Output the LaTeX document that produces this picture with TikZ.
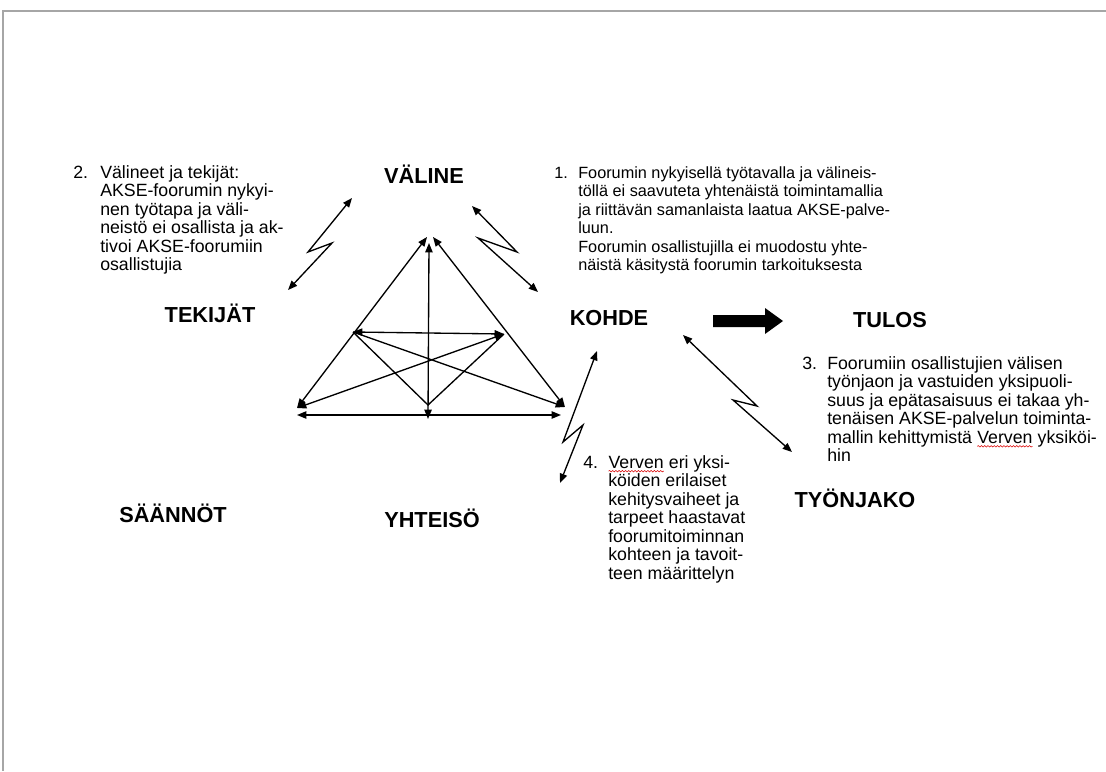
\documentclass[tikz,border=0pt]{standalone}
\usepackage{fontspec}
\setmainfont{Liberation Sans}
\usetikzlibrary{arrows.meta}
\usetikzlibrary{decorations.pathmorphing}

\tikzset{
  lbl/.style={font=\bfseries\fontsize{16.3}{19}\selectfont, inner sep=0pt, anchor=base},
  txt/.style={font=\fontsize{13.3}{13.9}\selectfont, align=left, anchor=north west, inner sep=0pt},
  txtsmall/.style={txt, font=\fontsize{12.2}{13.9}\selectfont},
  tip/.tip={Triangle[length=7pt,width=5.5pt]},
  both/.style={line width=1pt, tip-tip},
  one/.style={line width=1pt, -tip},
  bolt/.style={line width=1pt, tip-tip, line join=miter}
}
% red spell-check squiggle under a word
\newcommand\spellerr[1]{\tikz[baseline=(sw.base)]{\node[inner sep=0pt,outer sep=0pt](sw){#1};
  \draw[red!85!black,line width=0.4pt,decorate,decoration={snake,amplitude=0.55pt,segment length=2.4pt}]
  ([yshift=-2.2pt]sw.base west) -- ([yshift=-2.2pt]sw.base east);}}

\begin{document}
\begin{tikzpicture}[x=0.75pt,y=-0.75pt]
\useasboundingbox (0,0) rectangle (1106,771);
\draw[gray!70,line width=0.8pt] (1106,11) -- (3,11) -- (3,771);

% labels
\node[lbl] (valine) at (424,183) {VÄLINE};
\node[lbl] (tekijat) at (210,322) {TEKIJÄT};
\node[lbl] (kohde) at (609,325) {KOHDE};
\node[lbl] (tulos) at (890,327) {TULOS};
\node[lbl] (tyonjako) at (855,507) {TYÖNJAKO};
\node[lbl] (saannot) at (173,522) {SÄÄNNÖT};
\node[lbl] (yhteiso) at (432,527) {YHTEISÖ};

% numbered notes
\node[txtsmall] (n1) at (554,165) {\strut 1.};
\node[txtsmall] (t1) at (578,165) {\strut Foorumin nykyisellä työtavalla ja välineis-\\
töllä ei saavuteta yhtenäistä toimintamallia\\
ja riittävän samanlaista laatua AKSE-palve-\\
luun.\\
Foorumin osallistujilla ei muodostu yhte-\\
näistä käsitystä foorumin tarkoituksesta};

\node[txt] (n2) at (73,165) {\strut 2.};
\node[txt] (t2) at (100,165) {\strut Välineet ja tekijät:\\
AKSE-foorumin nykyi-\\
nen työtapa ja väli-\\
neistö ei osallista ja ak-\\
tivoi AKSE-foorumiin\\
osallistujia};

\node[txt] (n3) at (802,356) {\strut 3.};
\node[txt] (t3) at (827,356) {\strut Foorumiin osallistujien välisen\\
työnjaon ja vastuiden yksipuoli-\\
suus ja epätasaisuus ei takaa yh-\\
tenäisen AKSE-palvelun toiminta-\\
mallin kehittymistä \spellerr{Verven} yksiköi-\\
hin};

\node[txt] (n4) at (583,455) {\strut 4.};
\node[txt] (t4) at (608,455) {\strut \spellerr{Verven} eri yksi-\\
köiden erilaiset\\
kehitysvaiheet ja\\
tarpeet haastavat\\
foorumitoiminnan\\
kohteen ja tavoit-\\
teen määrittelyn};

% triangle points
\coordinate (apexL) at (427,237);
\coordinate (apexR) at (433,237);
\coordinate (apexV) at (429,243);
\coordinate (cornL) at (297,408);
\coordinate (cornR) at (565,407);
\coordinate (baseL) at (297,415);
\coordinate (baseR) at (561,415);
\coordinate (baseM) at (428,419);
\coordinate (midL) at (353,332);
\coordinate (midR) at (504,334);
\coordinate (vee) at (428,405);

\draw[both] (cornL) -- (apexL);
\draw[both] (cornR) -- (apexR);
\draw[both] (baseM) -- (apexV);
\draw[both] (baseL) -- (baseR);
\draw[both] (midL) -- (midR);
\draw[one] (midL) -- (cornR);
\draw[both] (midR) -- (cornL);
\draw[line width=1pt] (midL) -- (vee) -- (midR);

% lightning arrows
\coordinate (z1a) at (352,198); \coordinate (z1b) at (288,290);
\coordinate (z2a) at (472,206); \coordinate (z2b) at (538,292);
\coordinate (z3a) at (597,351); \coordinate (z3b) at (560,483);
\coordinate (z4a) at (683,335); \coordinate (z4b) at (792,452);
\draw[bolt] (z1a) -- (308,252) -- (332,243) -- (z1b);
\draw[bolt] (z2a) -- (517,252) -- (478,238) -- (z2b);
\draw[bolt] (z3a) -- (563,442) -- (583,425) -- (z3b);
\draw[bolt] (z4a) -- (757,406) -- (733,400) -- (z4b);

% block arrow to the result
\fill (713,315) -- (765,315) -- (765,308) -- (783,321) -- (765,334) -- (765,327) -- (713,327) -- cycle;

\end{tikzpicture}
\end{document}
